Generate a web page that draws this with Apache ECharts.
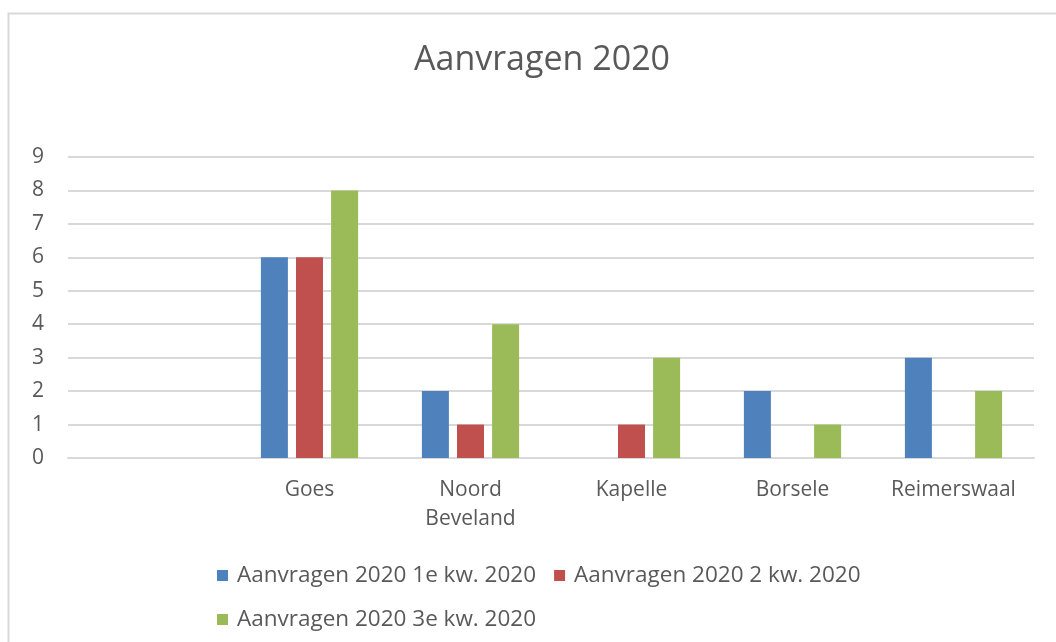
<!DOCTYPE html>
<html>
<head>
<meta charset="utf-8">
<script src="https://cdn.jsdelivr.net/npm/echarts@6/dist/echarts.min.js"></script>
<style>
  html, body { margin: 0; padding: 0; background: #fff; }
  #chart { width: 1056px; height: 642px; }
</style>
</head>
<body>
<div id="chart"></div>
<script>
// categorieën (eerste is leeg in het origineel)
const gemeenten = ['', 'Goes', 'Noord\nBeveland', 'Kapelle', 'Borsele', 'Reimerswaal']
const seriesNames = [
  'Aanvragen 2020 1e kw. 2020',
  'Aanvragen 2020 2 kw. 2020',
  'Aanvragen 2020 3e kw. 2020'
]
const kw1 = [null, 6, 2, null, 2, 3]
const kw2 = [null, 6, 1, 1, null, null]
const kw3 = [null, 8, 4, 3, 1, 2]
const yTicks = [0, 1, 2, 3, 4, 5, 6, 7, 8, 9]

const colors = ['#4f81bd', '#c0504d', '#9bbb59']
const font = '"Open Sans", "Liberation Sans", sans-serif'
const textColor = '#595959'

const chart = echarts.init(document.getElementById('chart'))

const legendBase = {
  icon: 'rect',
  itemWidth: 11,
  itemHeight: 11,
  itemGap: 18,
  textStyle: { color: textColor, fontSize: 22.5, fontFamily: font, padding: [0, 0, 0, 4] },
  selectedMode: false
}

chart.setOption({
  animation: false,
  color: colors,
  title: {
    text: 'Aanvragen 2020',
    left: 409,
    top: 38,
    textStyle: { color: textColor, fontSize: 34, fontWeight: 'normal', fontFamily: font }
  },
  graphic: [{
    type: 'rect',
    left: 6,
    top: 11,
    shape: { width: 1200, height: 800 },
    style: { fill: 'none', stroke: '#d9d9d9', lineWidth: 2 },
    silent: true
  }],
  legend: [
    Object.assign({}, legendBase, { data: seriesNames.slice(0, 2), left: 212, top: 559 }),
    Object.assign({}, legendBase, { data: seriesNames.slice(2), left: 212, top: 603 })
  ],
  grid: { left: 68, right: 22, top: 157, bottom: 184 },
  xAxis: {
    type: 'category',
    data: gemeenten,
    axisLine: { lineStyle: { color: '#d9d9d9', width: 2 } },
    axisTick: { show: false },
    axisLabel: {
      color: textColor, fontSize: 21, fontFamily: font, margin: 18, lineHeight: 29, interval: 0
    }
  },
  yAxis: {
    type: 'value',
    min: yTicks[0],
    max: yTicks[yTicks.length - 1],
    interval: 1,
    axisLine: { show: false },
    axisTick: { show: false },
    splitLine: { lineStyle: { color: '#d9d9d9', width: 2 } },
    axisLabel: { color: textColor, fontSize: 21, fontFamily: font, margin: 24 }
  },
  series: [kw1, kw2, kw3].map((d, i) => ({
    name: seriesNames[i],
    type: 'bar',
    data: d,
    barWidth: 27,
    barGap: '30%',
    itemStyle: { color: colors[i] }
  }))
})
</script>
</body>
</html>
